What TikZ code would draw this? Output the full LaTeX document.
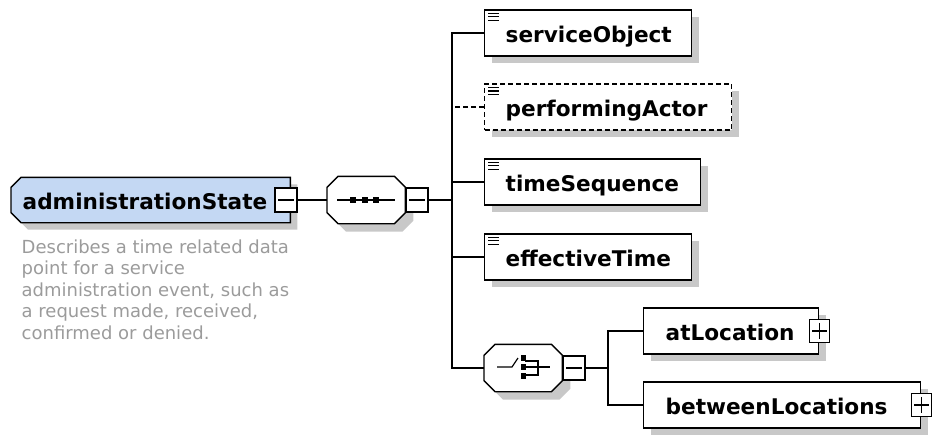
\documentclass[tikz,border=0pt]{standalone}
\usepackage{fontspec}
\setmainfont{DejaVu Sans}
\usetikzlibrary{shadows}
\definecolor{rootfill}{RGB}{196,216,243}
\definecolor{shadowgray}{RGB}{200,200,200}
\definecolor{doctext}{RGB}{155,155,155}
% outline of a box whose corners are cut: #1 node, #2 left cut, #3 right cut, #4 extra shift
\newcommand\cutbox[4]{([#4,xshift=#2]#1.north west) -- ([#4,xshift=-#3]#1.north east)
  -- ([#4,yshift=-#3]#1.north east) -- ([#4,yshift=#3]#1.south east) -- ([#4,xshift=-#3]#1.south east)
  -- ([#4,xshift=#2]#1.south west) -- ([#4,yshift=#2]#1.south west) -- ([#4,yshift=-#2]#1.north west) -- cycle}
\begin{document}
\begin{tikzpicture}[x=1pt,y=-1pt,line width=1.4pt,
  shad/.style={general shadow={fill=shadowgray,shadow xshift=7pt,shadow yshift=-7pt}},
  elem/.style={draw,fill=white,shad,rectangle,inner sep=0pt,minimum height=46pt,anchor=west},
  holder/.style={rectangle,inner sep=0pt,anchor=west},
  lbl/.style={anchor=base west,inner sep=0pt,font=\fontsize{21.6}{21.6}\selectfont\bfseries},
  toggle/.style={draw,fill=white,rectangle,inner sep=0pt,line width=1.2pt,minimum width=22pt,minimum height=24pt},
  glyph/.style={line width=1.2pt},
  wire/.style={line width=1.4pt},
  optional/.style={dash pattern=on 5pt off 3pt}
]
\useasboundingbox (0,0) rectangle (933,437);

% root element
\node[holder,minimum width=278pt,minimum height=44pt] (root) at (11,200) {};
\fill[shadowgray] \cutbox{root}{10pt}{0pt}{xshift=7pt,yshift=-7pt};
\draw[fill=rootfill] \cutbox{root}{10pt}{0pt}{xshift=0pt};
\node[lbl] (rootlbl) at (22,209) {administrationState};
\node[toggle] (rootT) at (286,200) {};
\draw[glyph] ([xshift=4pt]rootT.west) -- ([xshift=-4pt]rootT.east);

% documentation
\node[anchor=north west,align=left,inner sep=0pt,text=doctext,font=\fontsize{18}{21.5}\selectfont] (doc) at (21,239)
  {Describes a time related data\\point for a service\\administration event, such as\\a request made, received,\\confirmed or denied.};

% sequence compositor
\node[holder,minimum width=77pt,minimum height=46pt] (seq) at (327,200) {};
\fill[shadowgray] \cutbox{seq}{11pt}{11pt}{xshift=8pt,yshift=-8pt};
\draw[fill=white] \cutbox{seq}{11pt}{11pt}{xshift=0pt};
\draw[glyph] ([xshift=10pt]seq.west) -- ([xshift=-10pt]seq.east);
\foreach \sx in {353,365,376} \fill (\sx-2.6,197.4) rectangle (\sx+2.6,202.6);
\node[toggle,anchor=west] (seqT) at (seq.east) {};
\draw[glyph] ([xshift=4pt]seqT.west) -- ([xshift=-4pt]seqT.east);

\draw[wire] (rootT.east) -- (seq.west);
\coordinate (bus) at (452,200);
\draw[wire] (seqT.east) -- (bus);

% child elements
\node[elem,minimum width=207pt] (e1) at (484,33) {};
\node[lbl] at (505,42) {serviceObject};
\node[elem,minimum width=247pt,optional,line width=1.3pt] (e2) at (484,107) {};
\node[lbl] at (505,116) {performingActor};
\node[elem,minimum width=216pt] (e3) at (484,182) {};
\node[lbl] at (505,191) {timeSequence};
\node[elem,minimum width=207pt] (e4) at (484,257) {};
\node[lbl] at (505,266) {effectiveTime};

\foreach \e in {e1,e2,e3,e4}
  \foreach \dy in {4,7.5,11}
    \draw[line width=1.3pt,solid] ([xshift=4pt,yshift=-\dy pt]\e.north west) -- ++(11,0);

\draw[wire] (e1.west) -| (bus);
\draw[wire,optional] (e2.west) -- (e2.west -| bus);
\draw[wire] (e3.west) -- (e3.west -| bus);
\draw[wire] (e4.west) -- (e4.west -| bus);

% choice compositor
\node[holder,minimum width=77pt,minimum height=46pt] (ch) at (484,368) {};
\fill[shadowgray] \cutbox{ch}{11pt}{11pt}{xshift=8pt,yshift=-8pt};
\draw[fill=white] \cutbox{ch}{11pt}{11pt}{xshift=0pt};
\draw[glyph] (497,367) -- (512,367) -- (518,358);
\foreach \sy in {358,367,376} \fill (520.5,\sy-2.6) rectangle (525.7,\sy+2.6);
\draw[glyph] (525,361) -- (538,361) -- (538,375) -- (525,375);
\draw[glyph] (525,367) -- (550,367);
\node[toggle,anchor=west] (chT) at (ch.east) {};
\draw[glyph] ([xshift=4pt]chT.west) -- ([xshift=-4pt]chT.east);
\draw[wire] (ch.west) -| (bus);

\coordinate (bus2) at (608,368);
\draw[wire] (chT.east) -- (bus2);

\node[elem,minimum width=175pt] (e5) at (643,331) {};
\node[lbl] at (665,340) {atLocation};
\node[toggle,minimum width=20pt,minimum height=23pt] (e5T) at (e5.east) {};
\draw[glyph] ([xshift=3.5pt]e5T.west) -- ([xshift=-3.5pt]e5T.east)
  ([yshift=-4pt]e5T.north) -- ([yshift=4pt]e5T.south);

\node[elem,minimum width=277pt] (e6) at (643,405) {};
\node[lbl] at (665,414) {betweenLocations};
\node[toggle,minimum width=20pt,minimum height=23pt] (e6T) at (e6.east) {};
\draw[glyph] ([xshift=3.5pt]e6T.west) -- ([xshift=-3.5pt]e6T.east)
  ([yshift=-4pt]e6T.north) -- ([yshift=4pt]e6T.south);

\draw[wire] (e5.west) -| (bus2);
\draw[wire] (e6.west) -| (bus2);
\end{tikzpicture}
\end{document}
